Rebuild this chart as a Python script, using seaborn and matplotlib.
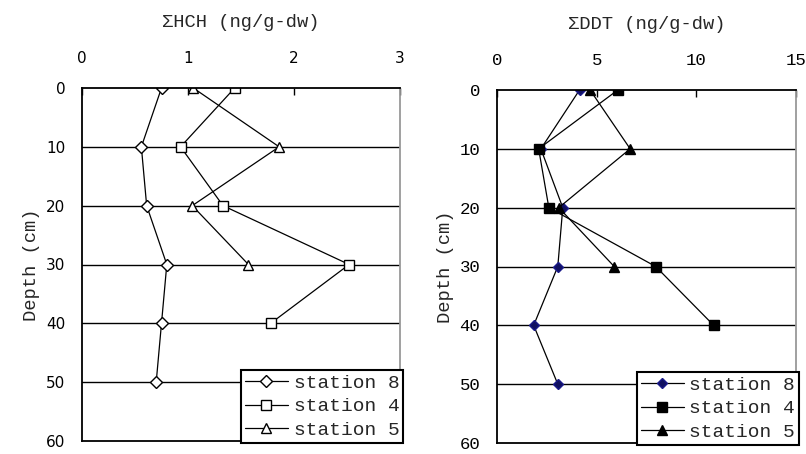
import matplotlib
matplotlib.use("Agg")
import matplotlib.pyplot as plt
import numpy as np
import pandas as pd
import seaborn as sns

# depth profiles
depth8 = [0, 10, 20, 30, 40, 50]
depth4 = [0, 10, 20, 30, 40]
depth5 = [0, 10, 20, 30]

hch_st8 = [0.75, 0.56, 0.61, 0.80, 0.75, 0.70]
hch_st4 = [1.44, 0.93, 1.33, 2.52, 1.78]
hch_st5 = [1.05, 1.86, 1.04, 1.57]

ddt_st8 = [4.14, 2.20, 3.30, 3.05, 1.84, 3.05]
ddt_st4 = [6.06, 2.09, 2.60, 7.96, 10.87]
ddt_st5 = [4.67, 6.68, 3.10, 5.88]

stations = ['station 8', 'station 4', 'station 5']

sns.set_style('white')
plt.rcParams['font.family'] = ['Liberation Mono', 'DejaVu Sans']

fig = plt.figure(figsize=(8.06, 4.54), dpi=100)
ax1 = fig.add_axes([82 / 806, 1 - 441 / 454, 318 / 806, 353 / 454])
ax2 = fig.add_axes([497 / 806, 1 - 443 / 454, 299 / 806, 353 / 454])


def draw_profile(ax, series, markers, faces, edges, sizes):
    for (vals, depths), name, m, fc, ec, ms in zip(series, stations, markers, faces, edges, sizes):
        sns.lineplot(x=vals, y=depths, ax=ax, orient='y', color='black', lw=0.9,
                     marker=m, markersize=ms, markerfacecolor=fc, markeredgecolor=ec,
                     markeredgewidth=1.0, label=name)


draw_profile(ax1,
             [(hch_st8, depth8), (hch_st4, depth4), (hch_st5, depth5)],
             ['D', 's', '^'], ['white'] * 3, ['black'] * 3, [6, 7, 7])
draw_profile(ax2,
             [(ddt_st8, depth8), (ddt_st4, depth4), (ddt_st5, depth5)],
             ['D', 's', '^'], ['#101060', 'black', 'black'], ['#1a1a8a', 'black', 'black'], [5, 7, 7])

titles = ['ΣHCH (ng/g-dw)', 'ΣDDT (ng/g-dw)']
xlims = [(0, 3), (0, 15)]
xticks = [[0, 1, 2, 3], [0, 5, 10, 15]]

for i, ax in enumerate([ax1, ax2]):
    ax.set_xlim(*xlims[i])
    ax.set_ylim(60, 0)
    ax.set_xticks(xticks[i])
    ax.set_yticks([0, 10, 20, 30, 40, 50, 60])
    ax.xaxis.tick_top()
    ax.tick_params(axis='x', direction='in', length=5, width=1, pad=16, labelsize=12.5, colors='black')
    ax.tick_params(axis='y', direction='in', length=5, width=1, pad=12, labelsize=12.5, colors='black')
    if i == 0:
        for t in ax.get_xticklabels() + ax.get_yticklabels():
            t.set_family('DejaVu Sans')
            t.set_fontsize(11)
    for d in [10, 20, 30, 40, 50]:
        ax.axhline(d, color='black', lw=1.0, zorder=0)
    for side in ['left', 'top', 'bottom']:
        ax.spines[side].set_color('black')
        ax.spines[side].set_linewidth(1.3)
    ax.spines['right'].set_color('#999999')
    ax.spines['right'].set_linewidth(1.3)
    ax.set_xlabel('')
    ax.set_ylabel('Depth (cm)', fontsize=13.5, labelpad=4)
    ax.set_title(titles[i], fontsize=13.5, pad=44)
    leg = ax.legend(loc='lower right', bbox_to_anchor=(1.01, -0.005), fontsize=14,
                    frameon=True, fancybox=False, edgecolor='black', framealpha=1,
                    borderpad=0.2, labelspacing=0.3, handlelength=2.2, handletextpad=0.3,
                    borderaxespad=0.0)
    leg.get_frame().set_linewidth(1.5)

fig.savefig('out.png', dpi=100)
